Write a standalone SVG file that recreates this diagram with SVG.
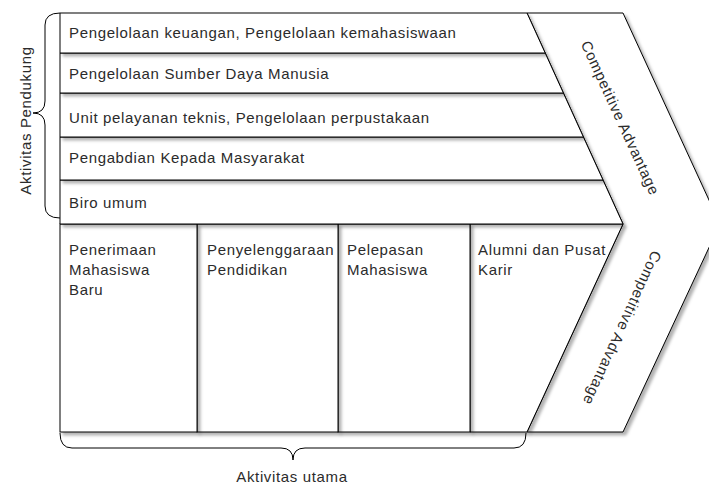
<svg xmlns="http://www.w3.org/2000/svg" width="709" height="487" viewBox="0 0 709 487">
  <defs>
    <filter id="sh" x="-10%" y="-10%" width="130%" height="130%">
      <feDropShadow dx="3" dy="3" stdDeviation="1.5" flood-color="#000" flood-opacity="0.3"/>
    </filter>
    <style>
      .shape { fill: #ffffff; stroke: #000000; stroke-width: 1; filter: url(#sh); }
      .t { font-family: "Liberation Sans", Arial, sans-serif; font-size: 15px; letter-spacing: 0.65px; fill: #2b2b2b; }
      .brace { fill: none; stroke: #000000; stroke-width: 1; }
    </style>
  </defs>
  <rect x="0" y="0" width="709" height="487" fill="#ffffff"/>

  <g id="competitive-advantage">
    <polygon class="shape" points="527,13 623,13 720,224 623,432 527,432 623,224"/>
    <text class="t" text-anchor="middle" transform="translate(620,118) rotate(65.4)" x="0" y="5">Competitive Advantage</text>
    <text class="t" text-anchor="middle" transform="translate(622,328) rotate(114.6)" x="0" y="5">Competitive Advantage</text>
  </g>

  <g id="alumni">
    <polygon class="shape" points="470,224 623,224 527,432 470,432"/>
    <text class="t" x="478" y="255">Alumni dan Pusat</text>
    <text class="t" x="478" y="275">Karir</text>
  </g>
  <g id="pelepasan">
    <rect class="shape" x="338" y="224" width="132" height="208"/>
    <text class="t" x="347" y="255">Pelepasan</text>
    <text class="t" x="347" y="275">Mahasiswa</text>
  </g>
  <g id="penyelenggaraan">
    <rect class="shape" x="197" y="224" width="141" height="208"/>
    <text class="t" x="207" y="255">Penyelenggaraan</text>
    <text class="t" x="207" y="275">Pendidikan</text>
  </g>
  <g id="penerimaan">
    <rect class="shape" x="60" y="224" width="137" height="208"/>
    <text class="t" x="69" y="255">Penerimaan</text>
    <text class="t" x="69" y="275">Mahasiswa</text>
    <text class="t" x="69" y="295">Baru</text>
  </g>

  <g id="biro-umum">
    <polygon class="shape" points="60,180 603,180 623,224 60,224"/>
    <text class="t" x="69" y="208">Biro umum</text>
  </g>
  <g id="pengabdian">
    <polygon class="shape" points="60,137 583.4,137 603,180 60,180"/>
    <text class="t" x="69" y="163">Pengabdian Kepada Masyarakat</text>
  </g>
  <g id="unit-pelayanan">
    <polygon class="shape" points="60,93 563.4,93 583.4,137 60,137"/>
    <text class="t" x="69" y="122.5">Unit pelayanan teknis, Pengelolaan perpustakaan</text>
  </g>
  <g id="sdm">
    <polygon class="shape" points="60,53 545.2,53 563.4,93 60,93"/>
    <text class="t" x="69" y="78.5">Pengelolaan Sumber Daya Manusia</text>
  </g>
  <g id="keuangan">
    <polygon class="shape" points="60,13 527,13 545.2,53 60,53"/>
    <text class="t" x="69" y="37.5">Pengelolaan keuangan, Pengelolaan kemahasiswaan</text>
  </g>

  <g id="connectors">
    <path class="brace" d="M60,13 Q45,13 45,25 L45,101 Q45,113 33,113 Q45,113 45,125 L45,206 Q45,218 60,218"/>
    <path class="brace" d="M60,433 Q60,448 72,448 L281,448 Q293,448 293,460 Q293,448 305,448 L514,448 Q526,448 526,433"/>
  </g>

  <g id="label-pendukung">
    <text class="t" text-anchor="middle" transform="translate(31,120.5) rotate(-90)">Aktivitas Pendukung</text>
  </g>
  <g id="label-utama">
    <text class="t" x="292" y="482" text-anchor="middle">Aktivitas utama</text>
  </g>
</svg>
